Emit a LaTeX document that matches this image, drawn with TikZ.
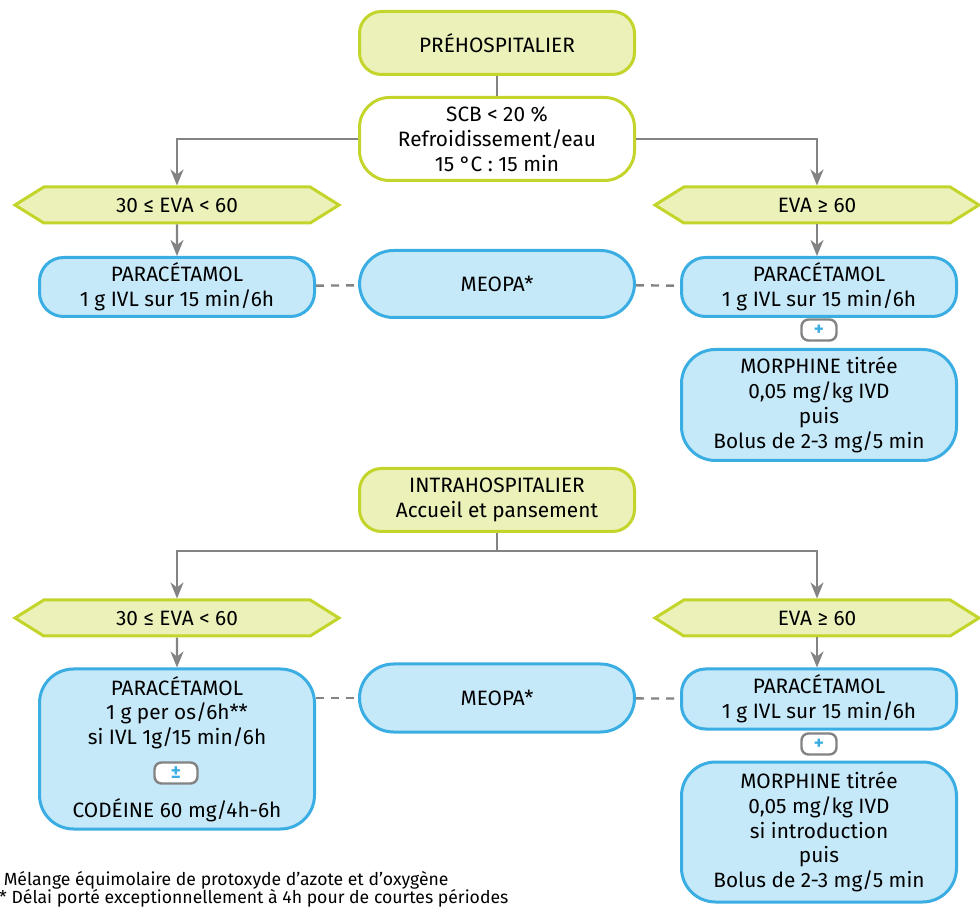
\documentclass[tikz,border=0pt]{standalone}
\usepackage{fontspec}
\setmainfont{Fira Sans}
\usetikzlibrary{shapes.symbols,arrows.meta}

\definecolor{vertfond}{HTML}{EBF1B9}
\definecolor{vertbord}{HTML}{C3D52B}
\definecolor{bleufond}{HTML}{C6E9F9}
\definecolor{bleubord}{HTML}{3AAEE3}
\definecolor{trait}{HTML}{838383}

\tikzset{
  texte/.style={align=center,font=\fontsize{10.4}{12.4}\selectfont,inner sep=2pt},
  etape/.style={texte,draw=vertbord,fill=vertfond,line width=1.5pt,
    rounded corners=11pt,minimum width=137.5pt,minimum height=31.5pt},
  mesure/.style={texte,draw=vertbord,fill=white,line width=1.5pt,
    rounded corners=15pt,minimum width=137.5pt,minimum height=41.5pt},
  seuil/.style={texte,draw=vertbord,fill=vertfond,line width=1.5pt,
    signal,signal to=west and east,signal pointer angle=64,
    minimum width=162pt,minimum height=18pt},
  traitement/.style={texte,draw=bleubord,fill=bleufond,line width=1.5pt,
    rounded corners=12pt,minimum width=137.5pt},
  plusbox/.style={draw=trait,fill=white,line width=1.2pt,rounded corners=3.5pt,
    minimum width=17.5pt,minimum height=10.5pt,inner sep=0pt,text=bleubord,
    font=\fontsize{9.5}{9.5}\selectfont\bfseries},
  lien/.style={draw=trait,line width=1.2pt},
  fleche/.style={lien,-{Stealth[length=8pt,width=6.5pt,inset=2.5pt]}},
  tirets/.style={lien,dash pattern=on 4pt off 3.5pt}
}

\begin{document}
\begin{tikzpicture}[x=0.5pt,y=-0.5pt]
\useasboundingbox (0,0) rectangle (980,908);

% prehospitalier
\node[etape] (pre) at (497,43) {PRÉHOSPITALIER};
\node[mesure] (scb) at (497,139)
{SCB < 20 \%\\Refroidissement/eau\\15 °C : 15 min};
\node[seuil] (hexA) at (177,205) {30 ≤ EVA < 60};
\node[seuil] (hexB) at (817,205) {EVA ≥ 60};
\node[traitement,minimum height=29.5pt] (paraA) at (177,287)
{PARACÉTAMOL\\1 g IVL sur 15 min/6h};
\node[traitement,minimum height=33.5pt,rounded corners=17pt] (meopaA) at (497,284)
{MEOPA*};
\node[traitement,minimum height=29.5pt] (paraB) at (819,287)
{PARACÉTAMOL\\1 g IVL sur 15 min/6h};
\node[plusbox] (plusA) at (819,330) {+};
\node[traitement,minimum height=55.5pt,rounded corners=17pt] (morphA) at (819,405)
{MORPHINE titrée\\0,05 mg/kg IVD\\puis\\Bolus de 2-3 mg/5 min};

\draw[lien] (pre) -- (scb);
\draw[fleche] (scb.west) -| (hexA.north);
\draw[fleche] (scb.east) -| (hexB.north);
\draw[fleche] (hexA) -- (paraA);
\draw[fleche] (hexB.south) -- (hexB.south |- paraB.north);
\draw[tirets] (paraA) -- (meopaA);
\draw[tirets] (meopaA) -- (paraB);

% intrahospitalier
\node[etape] (intra) at (497,500)
{INTRAHOSPITALIER\\Accueil et pansement};
\coordinate (jonction) at (497,551);
\node[seuil] (hexC) at (177,618) {30 ≤ EVA < 60};
\node[seuil] (hexD) at (817,618) {EVA ≥ 60};
\node[traitement,minimum height=80pt,rounded corners=17pt] (paraC) at (177,749)
{PARACÉTAMOL\\1 g per os/6h**\\si IVL 1g/15 min/6h\\[24pt]CODÉINE 60 mg/4h-6h};
\node[plusbox,minimum width=21.5pt] (plusC) at (176,773) {±};
\node[traitement,minimum height=34pt,rounded corners=17pt] (meopaB) at (497,698)
{MEOPA*};
\node[traitement,minimum height=30pt] (paraD) at (819,699)
{PARACÉTAMOL\\1 g IVL sur 15 min/6h};
\node[plusbox] (plusD) at (819,744) {+};
\node[traitement,minimum height=70pt,rounded corners=17pt] (morphB) at (819,832)
{MORPHINE titrée\\0,05 mg/kg IVD\\si introduction\\puis\\Bolus de 2-3 mg/5 min};

\draw[lien] (intra) -- (jonction);
\draw[fleche] (jonction) -| (hexC.north);
\draw[fleche] (jonction) -| (hexD.north);
\draw[fleche] (hexC) -- (paraC);
\draw[fleche] (hexD.south) -- (hexD.south |- paraD.north);
\draw[tirets] (paraC.east |- meopaB) -- (meopaB);
\draw[tirets] (meopaB) -- (paraD);

% notes
\node[anchor=north west,align=left,inner sep=0pt,
  font=\fontsize{8.8}{9}\selectfont] (notes) at (-9,871)
{* Mélange équimolaire de protoxyde d’azote et d’oxygène\\
** Délai porté exceptionnellement à 4h pour de courtes périodes};
\end{tikzpicture}
\end{document}
